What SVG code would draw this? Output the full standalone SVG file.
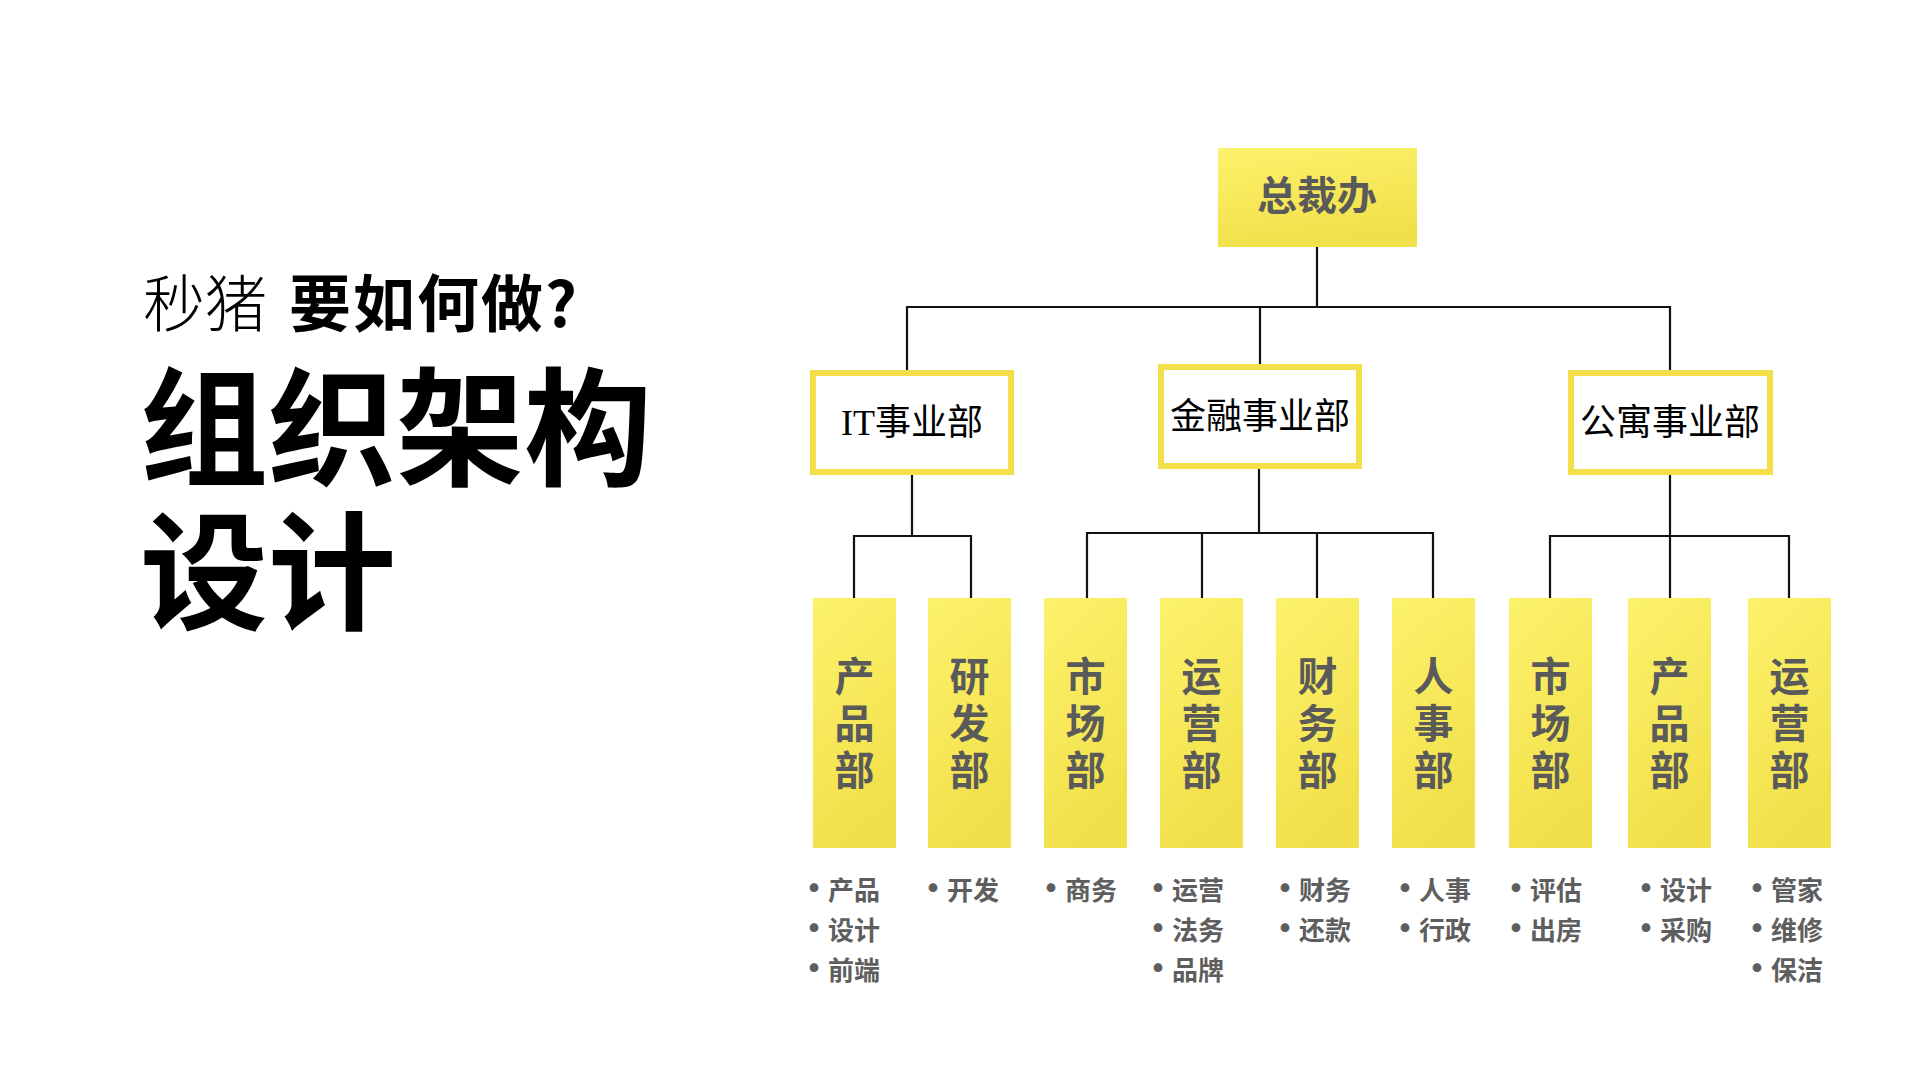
<svg xmlns="http://www.w3.org/2000/svg" width="1920" height="1080" viewBox="0 0 1920 1080">
<defs>
<linearGradient id="yg" x1="0" y1="0" x2="0.3" y2="1">
<stop offset="0" stop-color="#fcf26c"/>
<stop offset="1" stop-color="#f2e04a"/>
</linearGradient>
<style>
.conn{stroke:#111;stroke-width:2.2;fill:none;stroke-linecap:square}
.unit{fill:#fff;stroke:#f3df4a;stroke-width:6}
.unitT{font-family:"Liberation Serif","Noto Sans CJK SC",serif;font-size:36px;fill:#000;text-anchor:middle}
.dept{fill:url(#yg)}
.deptT{font-family:"Noto Sans CJK SC",sans-serif;font-weight:700;font-size:40px;fill:#5a5a5a;text-anchor:middle}
.bul{font-family:"Noto Sans CJK SC",sans-serif;font-weight:700;font-size:26px;fill:#5e5e5e}
.bd{text-anchor:middle;font-size:34px}
</style>
</defs>
<rect width="1920" height="1080" fill="#fff"/>
<g id="title">
<text y="327" font-family="Noto Sans CJK SC,sans-serif" font-size="62" fill="#000"><tspan x="143" font-weight="300">秒猪</tspan><tspan x="289" font-weight="700" letter-spacing="2">要如何做?</tspan></text>
<text x="140" y="476" font-family="Noto Sans CJK SC,sans-serif" font-size="128" font-weight="700" fill="#000">组织架构</text>
<text x="140" y="620" font-family="Noto Sans CJK SC,sans-serif" font-size="128" font-weight="700" fill="#000">设计</text>
</g>
<g id="connectors">
<path class="conn" d="M1317 247V307M907 307H1670M907 307V370M1260 307V365M1670 307V370"/>
<path class="conn" d="M912 475V536M854 536H971M854 536V598M971 536V598"/>
<path class="conn" d="M1259 469V533M1087 533H1433M1087 533V598M1202 533V598M1317 533V598M1433 533V598"/>
<path class="conn" d="M1670 474V536M1550 536H1789M1550 536V598M1670 536V598M1789 536V598"/>
</g>
<g id="ceo">
<rect x="1218" y="148" width="199" height="99" fill="url(#yg)"/>
<text x="1317" y="210" class="deptT">总裁办</text>
</g>
<g id="unit-it">
<rect class="unit" x="813" y="373" width="198" height="99"/>
<text x="912" y="435" class="unitT">IT事业部</text>
</g>
<g id="unit-finance">
<rect class="unit" x="1161" y="367" width="198" height="99"/>
<text x="1260" y="429" class="unitT">金融事业部</text>
</g>
<g id="unit-apartment">
<rect class="unit" x="1571" y="373" width="199" height="99"/>
<text x="1670" y="435" class="unitT">公寓事业部</text>
</g>
<g id="dept1">
<rect class="dept" x="813" y="598" width="83" height="250"/>
<text class="deptT"><tspan x="854.5" y="691">产</tspan><tspan x="854.5" y="738">品</tspan><tspan x="854.5" y="785">部</tspan></text>
<text class="bul"><tspan class="bd" x="814" y="901">•</tspan><tspan x="828" y="900">产品</tspan><tspan class="bd" x="814" y="941">•</tspan><tspan x="828" y="940">设计</tspan><tspan class="bd" x="814" y="981">•</tspan><tspan x="828" y="980">前端</tspan></text>
</g>
<g id="dept2">
<rect class="dept" x="928" y="598" width="83" height="250"/>
<text class="deptT"><tspan x="969.5" y="691">研</tspan><tspan x="969.5" y="738">发</tspan><tspan x="969.5" y="785">部</tspan></text>
<text class="bul"><tspan class="bd" x="933" y="901">•</tspan><tspan x="947" y="900">开发</tspan></text>
</g>
<g id="dept3">
<rect class="dept" x="1044" y="598" width="83" height="250"/>
<text class="deptT"><tspan x="1085.5" y="691">市</tspan><tspan x="1085.5" y="738">场</tspan><tspan x="1085.5" y="785">部</tspan></text>
<text class="bul"><tspan class="bd" x="1051" y="901">•</tspan><tspan x="1065" y="900">商务</tspan></text>
</g>
<g id="dept4">
<rect class="dept" x="1160" y="598" width="83" height="250"/>
<text class="deptT"><tspan x="1201.5" y="691">运</tspan><tspan x="1201.5" y="738">营</tspan><tspan x="1201.5" y="785">部</tspan></text>
<text class="bul"><tspan class="bd" x="1158" y="901">•</tspan><tspan x="1172" y="900">运营</tspan><tspan class="bd" x="1158" y="941">•</tspan><tspan x="1172" y="940">法务</tspan><tspan class="bd" x="1158" y="981">•</tspan><tspan x="1172" y="980">品牌</tspan></text>
</g>
<g id="dept5">
<rect class="dept" x="1276" y="598" width="83" height="250"/>
<text class="deptT"><tspan x="1317.5" y="691">财</tspan><tspan x="1317.5" y="738">务</tspan><tspan x="1317.5" y="785">部</tspan></text>
<text class="bul"><tspan class="bd" x="1285" y="901">•</tspan><tspan x="1299" y="900">财务</tspan><tspan class="bd" x="1285" y="941">•</tspan><tspan x="1299" y="940">还款</tspan></text>
</g>
<g id="dept6">
<rect class="dept" x="1392" y="598" width="83" height="250"/>
<text class="deptT"><tspan x="1433.5" y="691">人</tspan><tspan x="1433.5" y="738">事</tspan><tspan x="1433.5" y="785">部</tspan></text>
<text class="bul"><tspan class="bd" x="1405" y="901">•</tspan><tspan x="1419" y="900">人事</tspan><tspan class="bd" x="1405" y="941">•</tspan><tspan x="1419" y="940">行政</tspan></text>
</g>
<g id="dept7">
<rect class="dept" x="1509" y="598" width="83" height="250"/>
<text class="deptT"><tspan x="1550.5" y="691">市</tspan><tspan x="1550.5" y="738">场</tspan><tspan x="1550.5" y="785">部</tspan></text>
<text class="bul"><tspan class="bd" x="1516" y="901">•</tspan><tspan x="1530" y="900">评估</tspan><tspan class="bd" x="1516" y="941">•</tspan><tspan x="1530" y="940">出房</tspan></text>
</g>
<g id="dept8">
<rect class="dept" x="1628" y="598" width="83" height="250"/>
<text class="deptT"><tspan x="1669.5" y="691">产</tspan><tspan x="1669.5" y="738">品</tspan><tspan x="1669.5" y="785">部</tspan></text>
<text class="bul"><tspan class="bd" x="1646" y="901">•</tspan><tspan x="1660" y="900">设计</tspan><tspan class="bd" x="1646" y="941">•</tspan><tspan x="1660" y="940">采购</tspan></text>
</g>
<g id="dept9">
<rect class="dept" x="1748" y="598" width="83" height="250"/>
<text class="deptT"><tspan x="1789.5" y="691">运</tspan><tspan x="1789.5" y="738">营</tspan><tspan x="1789.5" y="785">部</tspan></text>
<text class="bul"><tspan class="bd" x="1757" y="901">•</tspan><tspan x="1771" y="900">管家</tspan><tspan class="bd" x="1757" y="941">•</tspan><tspan x="1771" y="940">维修</tspan><tspan class="bd" x="1757" y="981">•</tspan><tspan x="1771" y="980">保洁</tspan></text>
</g>
</svg>
